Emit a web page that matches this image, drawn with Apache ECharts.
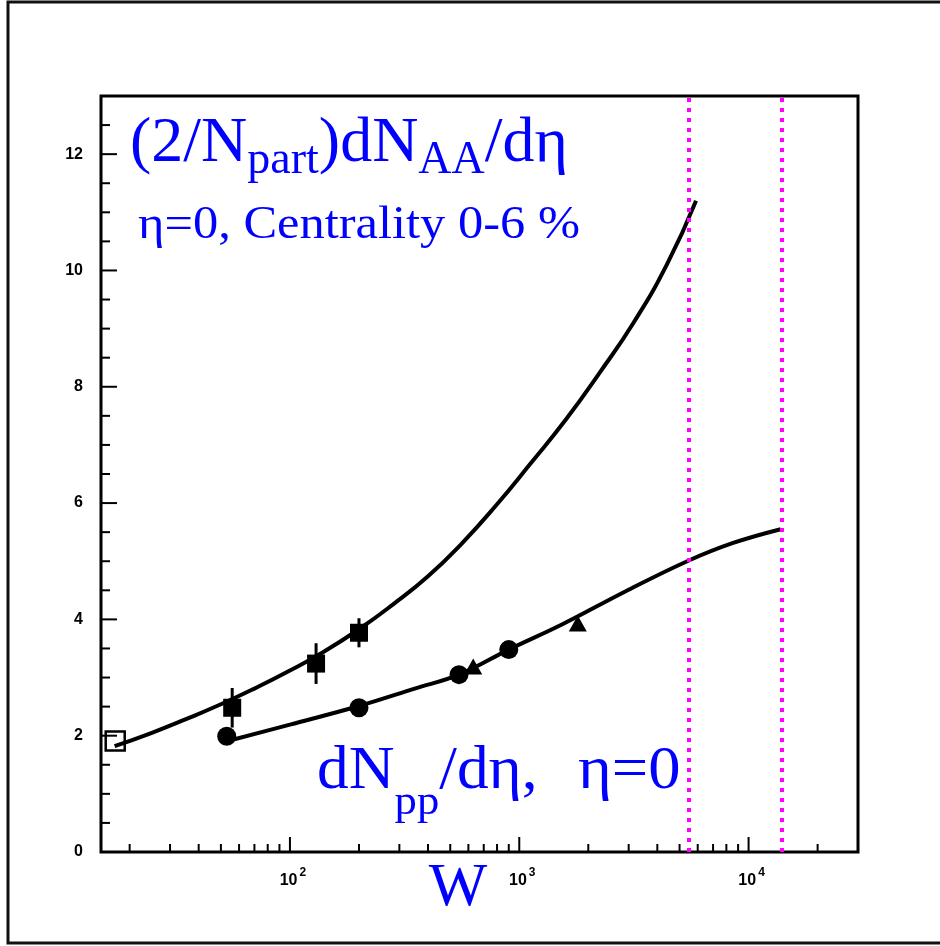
<!DOCTYPE html>
<html>
<head>
<meta charset="utf-8">
<script src="https://cdn.jsdelivr.net/npm/echarts@6/dist/echarts.min.js"></script>
<style>
  html, body { margin: 0; padding: 0; background: #fff; }
  #chart { width: 940px; height: 946px; }
</style>
</head>
<body>
<div id="chart"></div>
<script>
// ---------- data ----------
const xMin = 15, xMax = 30000;
const yMin = 0, yMax = 13;

// AA (central) curve samples
const aaCurveW = [17.2, 25, 35, 50, 70, 100, 140, 200, 280, 400, 560, 800, 1120, 1600, 2240, 3150, 4400, 5900];
const aaCurveY = [1.82, 2.05, 2.28, 2.54, 2.81, 3.12, 3.44, 3.83, 4.25, 4.74, 5.30, 5.98, 6.68, 7.44, 8.24, 9.10, 10.10, 11.20];

// pp curve samples
const ppCurveW = [52.6, 100, 200, 350, 546, 900, 1550, 2900, 5400, 8500, 13800];
const ppCurveY = [1.90, 2.19, 2.51, 2.81, 3.05, 3.48, 3.92, 4.48, 5.00, 5.31, 5.55];

// AA data points
const aaOpenW = [17.3];
const aaOpenY = [1.91];
const aaW = [56, 130, 200];
const aaY = [2.48, 3.24, 3.77];
const aaErr = [0.34, 0.35, 0.25];

// pp data points
const ppCircW = [53, 200, 546, 900];
const ppCircY = [1.99, 2.48, 3.05, 3.48];
const ppTriW = [630, 1800];
const ppTriY = [3.19, 3.93];

// LHC energies (vertical dotted lines)
const lhcW = [5500, 14000];

// ticks
const xMajorTicks = [100, 1000, 10000];
const xMinorTicks = [20, 30, 40, 50, 60, 70, 80, 90, 200, 300, 400, 500, 600, 700, 800, 900,
                     2000, 3000, 4000, 5000, 6000, 7000, 8000, 9000, 20000];
const yMajorTicks = [0, 2, 4, 6, 8, 10, 12];
const yMinorTicks = [0.5, 1, 1.5, 2.5, 3, 3.5, 4.5, 5, 5.5, 6.5, 7, 7.5, 8.5, 9, 9.5, 10.5, 11, 11.5, 12.5];

// ---------- helpers ----------
const zip = (a, b) => a.map((v, i) => [v, b[i]]);
const BLUE = '#0000ff';
const SERIF = '"Liberation Serif", "Times New Roman", serif';
const SANS = '"Liberation Sans", Arial, sans-serif';

const myChart = echarts.init(document.getElementById('chart'), null, { renderer: 'canvas' });

const measureCtx = document.createElement('canvas').getContext('2d');
function textWidth(str, size) {
  measureCtx.font = size + 'px ' + SERIF;
  return measureCtx.measureText(str).width;
}

// text placed by its baseline; sx/sy stretch about the baseline origin
function textEl(str, x, baseline, size, o) {
  o = o || {};
  return {
    type: 'text',
    x: x, y: baseline,
    scaleX: o.sx || 1, scaleY: o.sy || 1,
    originX: 0, originY: 0,
    z: 100, silent: true,
    style: {
      text: str, x: 0, y: -0.3375 * size,
      fill: BLUE,
      font: size + 'px ' + SERIF,
      textAlign: o.align || 'left',
      textVerticalAlign: 'middle'
    }
  };
}

// lay out a sequence of [text, isSub] pieces from x0
function flow(pieces, x0, baseMain, baseSub, sMain, sSub, sx) {
  const els = [];
  let x = x0;
  pieces.forEach(p => {
    const size = p[1] ? sSub : sMain;
    els.push(textEl(p[0], x, p[1] ? baseSub : baseMain, size, { sx: sx || 1 }));
    x += textWidth(p[0], size) * (sx || 1);
  });
  return els;
}

const titleEls = flow([['(2/N', 0], ['part', 1], [')dN', 0], ['AA', 1], ['/d\u03b7', 0]],
                      130, 165.5, 176, 64, 46);
const ppEls = flow([['dN', 0], ['pp', 1], ['/d\u03b7,', 0]], 317, 793, 817, 61, 43, 1.04);

const option = {
  backgroundColor: '#fff',
  animation: false,
  grid: {
    left: 101, top: 96, width: 757, height: 756,
    show: true, borderColor: '#000', borderWidth: 3, backgroundColor: 'transparent'
  },
  xAxis: {
    type: 'log', logBase: 10, min: xMin, max: xMax,
    axisLine: { show: false },
    axisTick: { show: false },
    splitLine: { show: false },
    minorTick: { show: false },
    axisLabel: {
      margin: 15,
      showMinLabel: false, showMaxLabel: false,
      formatter: function (v) {
        const e = Math.log10(v);
        if (Math.abs(e - Math.round(e)) < 1e-6 && xMajorTicks.indexOf(Math.round(v)) >= 0) {
          return '{b|10}{s|' + Math.round(e) + '}';
        }
        return '';
      },
      rich: {
        b: { fontFamily: SANS, fontWeight: 'bold', fontSize: 16, color: '#000', verticalAlign: 'bottom', lineHeight: 22, padding: [0, 0, 0, 6] },
        s: { fontFamily: SANS, fontWeight: 'bold', fontSize: 12, color: '#000', verticalAlign: 'top', lineHeight: 22, padding: [0, 0, 0, 2] }
      }
    }
  },
  yAxis: {
    type: 'value', min: yMin, max: yMax, interval: 2,
    axisLine: { show: false },
    axisTick: { show: false },
    splitLine: { show: false },
    axisLabel: {
      margin: 18,
      showMaxLabel: false,
      fontFamily: SANS,
      fontWeight: 'bold', fontSize: 16, color: '#000',
      formatter: function (v) { return yMajorTicks.indexOf(v) >= 0 ? String(v) : ''; }
    }
  },
  graphic: [
    {
      type: 'rect', z: 0, silent: true,
      shape: { x: 8, y: 2, width: 1000, height: 941 },
      style: { fill: 'none', stroke: '#111', lineWidth: 3 }
    }
  ].concat(titleEls, [
    textEl('\u03b7=0, Centrality 0-6 %', 138, 241.5, 50.5, { sy: 0.9 })
  ], ppEls, [
    textEl('\u03b7=0', 578, 793, 61, { sx: 1.06 }),
    textEl('W', 458, 910, 62, { align: 'center' })
  ]),
  series: [
    // tick marks (x)
    {
      type: 'custom', silent: true, z: 5,
      data: xMajorTicks.map(v => [v, 0, 15]).concat(xMinorTicks.map(v => [v, 0, 8])),
      renderItem: function (params, api) {
        const p = api.coord([api.value(0), yMin]);
        return { type: 'line', shape: { x1: p[0], y1: p[1], x2: p[0], y2: p[1] - api.value(2) },
                 style: { stroke: '#000', lineWidth: 2 } };
      }
    },
    // tick marks (y)
    {
      type: 'custom', silent: true, z: 5,
      data: yMajorTicks.map(v => [xMin, v, 16]).concat(yMinorTicks.map(v => [xMin, v, 9])),
      renderItem: function (params, api) {
        const p = api.coord([xMin, api.value(1)]);
        return { type: 'line', shape: { x1: p[0], y1: p[1], x2: p[0] + api.value(2), y2: p[1] },
                 style: { stroke: '#000', lineWidth: 2 } };
      }
    },
    // LHC dotted lines
    {
      type: 'line', data: [], silent: true,
      markLine: {
        silent: true, symbol: ['none', 'none'], label: { show: false },
        lineStyle: { color: '#ff00ff', width: 4, type: [4, 6], opacity: 1 },
        emphasis: { disabled: true },
        data: lhcW.map(v => ({ xAxis: v }))
      }
    },
    // curves
    {
      type: 'line', data: zip(aaCurveW, aaCurveY), smooth: 0.5, showSymbol: false, z: 3, silent: true,
      lineStyle: { color: '#000', width: 4 }
    },
    {
      type: 'line', data: zip(ppCurveW, ppCurveY), smooth: 0.4, showSymbol: false, z: 3, silent: true,
      lineStyle: { color: '#000', width: 4 }
    },
    // error bars
    {
      type: 'custom', z: 4, silent: true,
      data: aaW.map((w, i) => [w, aaY[i], aaErr[i]]),
      renderItem: function (params, api) {
        const a = api.coord([api.value(0), api.value(1) - api.value(2)]);
        const b = api.coord([api.value(0), api.value(1) + api.value(2)]);
        return { type: 'line', shape: { x1: a[0], y1: a[1], x2: b[0], y2: b[1] },
                 style: { stroke: '#000', lineWidth: 3 } };
      }
    },
    // markers
    {
      type: 'scatter', data: zip(aaOpenW, aaOpenY), symbol: 'rect', symbolSize: 19, z: 6, silent: true,
      itemStyle: { color: 'rgba(255,255,255,0)', borderColor: '#000', borderWidth: 2.5, opacity: 1 }
    },
    {
      type: 'scatter', data: zip(aaW, aaY), symbol: 'rect', symbolSize: 18, z: 6, silent: true,
      itemStyle: { color: '#000', opacity: 1 }
    },
    {
      type: 'scatter', data: zip(ppCircW, ppCircY), symbol: 'circle', symbolSize: 19, z: 6, silent: true,
      itemStyle: { color: '#000', opacity: 1 }
    },
    {
      type: 'scatter', data: zip(ppTriW, ppTriY), symbol: 'triangle', symbolSize: [18, 16], z: 6, silent: true,
      itemStyle: { color: '#000', opacity: 1 }
    }
  ]
};

myChart.setOption(option);
</script>
</body>
</html>
